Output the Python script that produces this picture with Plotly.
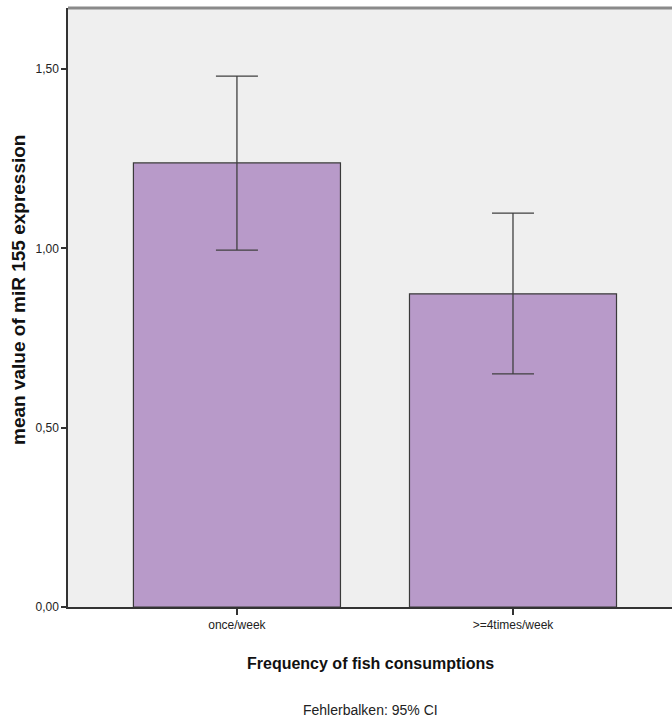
import plotly.graph_objects as go

categories = ["once/week", ">=4times/week"]
means = [1.238, 0.873]
ci_upper = [1.48, 1.098]
ci_lower = [0.995, 0.650]
y_ticks = [0.0, 0.5, 1.0, 1.5]

err_plus = [u - m for u, m in zip(ci_upper, means)]
err_minus = [m - l for m, l in zip(means, ci_lower)]

sans = "Liberation Sans, Arial, sans-serif"

fig = go.Figure()
fig.add_trace(go.Bar(
    x=[0, 1],
    y=means,
    width=0.75,
    marker=dict(color="#b89ac9", line=dict(color="#3a3a3a", width=1.2)),
    error_y=dict(type="data", symmetric=False, array=err_plus, arrayminus=err_minus,
                 color="#404040", thickness=1.3, width=21),
    showlegend=False,
    hoverinfo="skip",
))

fig.update_layout(
    width=672, height=718,
    margin=dict(l=68, r=0, t=8, b=111),
    paper_bgcolor="white",
    plot_bgcolor="#efefef",
    separators=",.",
    xaxis=dict(
        range=[-0.612, 1.576],
        tickvals=[0, 1], ticktext=categories,
        ticks="outside", ticklen=6, tickcolor="#333", tickwidth=1.5,
        showline=True, linecolor="#333", linewidth=1.5,
        showgrid=False, zeroline=False,
        tickfont=dict(family=sans, size=12, color="#222"),
    ),
    yaxis=dict(
        range=[0, 1.67],
        tickvals=y_ticks, tickformat=".2f",
        ticks="outside", ticklen=5, tickcolor="#333", tickwidth=1.5,
        showline=True, linecolor="#333", linewidth=1.5,
        showgrid=False, zeroline=False,
        tickfont=dict(family=sans, size=12, color="#222"),
    ),
    shapes=[dict(type="line", xref="paper", yref="paper", x0=0, x1=1, y0=1, y1=1,
                 line=dict(color="#8a8a8a", width=3))],
    annotations=[
        dict(text="<b>mean value of miR 155 expression</b>", xref="paper", yref="paper",
             x=-0.083, y=0.529, xanchor="center", yanchor="middle", textangle=-90,
             showarrow=False, font=dict(family=sans, size=19, color="#111")),
        dict(text="<b>Frequency of fish consumptions</b>", xref="paper", yref="paper",
             x=0.5, y=-0.095, xanchor="center", yanchor="middle",
             showarrow=False, font=dict(family=sans, size=16, color="#111")),
        dict(text="Fehlerbalken: 95% CI", xref="paper", yref="paper",
             x=0.5, y=-0.172, xanchor="center", yanchor="middle",
             showarrow=False, font=dict(family=sans, size=14, color="#222")),
    ],
)

fig.write_html(
    "out.html",
    config={"displayModeBar": False},
    post_script="document.body.style.margin='0';document.body.style.overflow='hidden';",
)
